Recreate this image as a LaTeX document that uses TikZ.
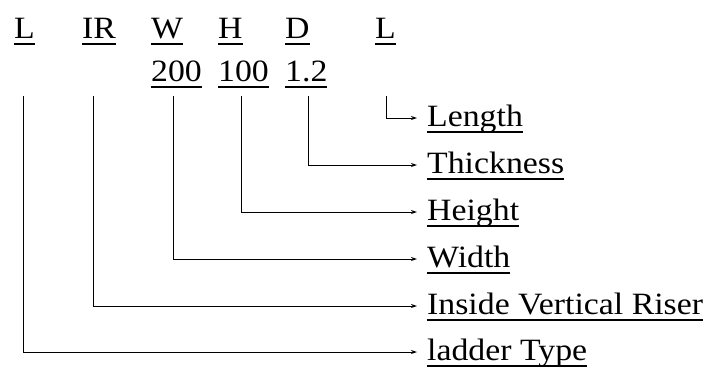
\documentclass[tikz,border=0pt]{standalone}
\usepackage{fontspec}
\setmainfont[FakeStretch=1.09]{Liberation Serif}
\usetikzlibrary{arrows.meta}
\newsavebox\ulbox
\newcommand\uln[1]{\sbox\ulbox{#1}\rlap{\rule[-6.6pt]{\wd\ulbox}{1.4pt}}\usebox\ulbox}

\begin{document}
\begin{tikzpicture}
  [x=1pt,y=-1pt,every node/.style={font=\fontsize{31}{36}\selectfont},
   code/.style={anchor=base west,inner sep=0pt},
   item/.style={anchor=west,inner ysep=0pt,inner xsep=10pt,text height=22pt,text depth=6pt},
   link/.style={-{Stealth[length=6pt,width=4pt]},line width=1pt}]
  \useasboundingbox (0,0) rectangle (709,367);
  \node[code] (cL) at (14,38) {\uln{L}};
  \node[code] (cIR) at (82,38) {\uln{IR}};
  \node[code] (cW) at (151,38) {\uln{W}};
  \node[code] (cH) at (218,38) {\uln{H}};
  \node[code] (cD) at (285,38) {\uln{D}};
  \node[code] (cLen) at (375,38) {\uln{L}};
  \node[code] (vW) at (151,81) {\uln{200}};
  \node[code] (vH) at (218,81) {\uln{100}};
  \node[code] (vD) at (285,81) {\uln{1.2}};
  \node[item] (nLength) at (417,118) {\uln{Length}};
  \node[item] (nThick) at (417,165) {\uln{Thickness}};
  \node[item] (nHeight) at (417,212) {\uln{Height}};
  \node[item] (nWidth) at (417,259) {\uln{Width}};
  \node[item] (nRiser) at (417,306) {\uln{Inside Vertical Riser}};
  \node[item] (nType) at (417,352) {\uln{ladder Type}};
  % start points of the leaders
  \coordinate (sL) at (23,96);
  \coordinate (sIR) at (93,96);
  \coordinate (sW) at (173,96);
  \coordinate (sH) at (241,96);
  \coordinate (sD) at (308,96);
  \coordinate (sLen) at (386,96);
    \foreach \from/\to in {sL/nType,sIR/nRiser,sW/nWidth,sH/nHeight,sD/nThick,sLen/nLength}
    \draw[link] (\from) |- (\to);
  \end{tikzpicture}
\end{document}
